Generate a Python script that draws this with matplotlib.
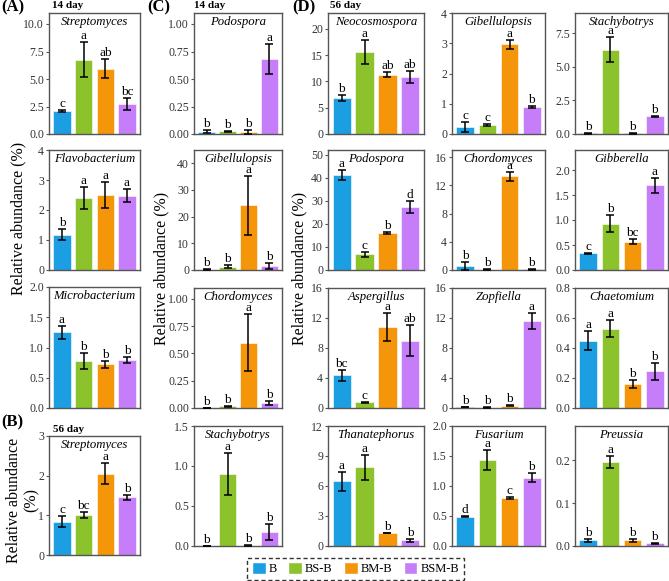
import numpy as np
import matplotlib.pyplot as plt
from matplotlib.patches import Patch

plt.rcParams['font.family'] = ['Liberation Serif', 'DejaVu Serif']

groups = ["B", "BS-B", "BM-B", "BSM-B"]
colors = ["#1C9FE2", "#8CC22B", "#F5960A", "#C57DF9"]

# (A) 14 day bacteria
strep14_mean = [2.1, 6.75, 5.95, 2.75]
strep14_err = [0.1, 1.6, 0.9, 0.55]
strep14_sig = ["c", "a", "ab", "bc"]

flavo_mean = [1.18, 2.4, 2.5, 2.48]
flavo_err = [0.18, 0.36, 0.44, 0.22]
flavo_sig = ["b", "a", "a", "a"]

micro_mean = [1.25, 0.78, 0.72, 0.79]
micro_err = [0.11, 0.13, 0.065, 0.045]
micro_sig = ["a", "b", "b", "b"]

# (B) 56 day bacteria
strep56_mean = [0.84, 1.01, 2.05, 1.45]
strep56_err = [0.14, 0.075, 0.27, 0.075]
strep56_sig = ["c", "bc", "a", "b"]

# (C) 14 day fungi
podo14_mean = [0.02, 0.025, 0.02, 0.68]
podo14_err = [0.015, 0.005, 0.02, 0.135]
podo14_sig = ["b", "b", "b", "a"]

gibel14_mean = [0.1, 1.3, 24.2, 1.5]
gibel14_err = [0.1, 0.7, 11.2, 1.2]
gibel14_sig = ["b", "b", "a", "b"]

chord14_mean = [0.002, 0.015, 0.6, 0.045]
chord14_err = [0.001, 0.005, 0.26, 0.02]
chord14_sig = ["b", "b", "a", "b"]

stachy14_mean = [0.004, 0.9, 0.006, 0.18]
stachy14_err = [0.002, 0.265, 0.003, 0.1]
stachy14_sig = ["b", "a", "b", "b"]

# (D) 56 day fungi
neocos_mean = [6.85, 15.6, 11.3, 10.85]
neocos_err = [0.6, 2.25, 0.45, 1.1]
neocos_sig = ["b", "a", "ab", "ab"]

gibel56_mean = [0.23, 0.29, 2.97, 0.9]
gibel56_err = [0.17, 0.04, 0.15, 0.03]
gibel56_sig = ["c", "c", "a", "b"]

stachy56_mean = [0.05, 6.25, 0.05, 1.33]
stachy56_err = [0.02, 0.93, 0.02, 0.04]
stachy56_sig = ["b", "a", "b", "b"]

podo56_mean = [41.0, 6.8, 16.1, 27.4]
podo56_err = [2.2, 1.0, 0.3, 2.5]
podo56_sig = ["a", "c", "b", "d"]

chord56_mean = [0.6, 0.05, 13.25, 0.1]
chord56_err = [0.6, 0.03, 0.6, 0.05]
chord56_sig = ["b", "b", "a", "b"]

gibber_mean = [0.34, 0.93, 0.57, 1.7]
gibber_err = [0.01, 0.165, 0.05, 0.15]
gibber_sig = ["c", "b", "bc", "a"]

asper_mean = [4.35, 0.75, 10.8, 9.0]
asper_err = [0.75, 0.07, 1.9, 2.05]
asper_sig = ["bc", "c", "a", "ab"]

zopf_mean = [0.12, 0.05, 0.3, 11.6]
zopf_err = [0.03, 0.02, 0.05, 1.05]
zopf_sig = ["b", "b", "b", "a"]

chaet_mean = [0.45, 0.53, 0.16, 0.245]
chaet_err = [0.063, 0.055, 0.025, 0.055]
chaet_sig = ["a", "a", "b", "b"]

thana_mean = [6.47, 7.9, 1.3, 0.57]
thana_err = [0.95, 1.25, 0.03, 0.12]
thana_sig = ["a", "a", "b", "b"]

fusar_mean = [0.49, 1.43, 0.8, 1.14]
fusar_err = [0.01, 0.17, 0.02, 0.07]
fusar_sig = ["d", "a", "c", "b"]

preus_mean = [0.013, 0.195, 0.013, 0.006]
preus_err = [0.004, 0.014, 0.003, 0.002]
preus_sig = ["b", "a", "b", "b"]

W, H = 669, 581
fig = plt.figure(figsize=(W / 100, H / 100), dpi=100)


def add_ax(x0, x1, y0, y1):
    return fig.add_axes([x0 / W, 1 - y1 / H, (x1 - x0) / W, (y1 - y0) / H])


def panel(ax, title, mean, err, sig, top, ticks, fmt):
    x = np.arange(1, 5)
    ax.bar(x, mean, width=0.8, color=colors, edgecolor="white", linewidth=0.4, zorder=2)
    ax.errorbar(x, mean, yerr=err, fmt="none", ecolor="black", elinewidth=1.1,
                capsize=3.2, capthick=1.1, zorder=3)
    for xi, m, e, s in zip(x, mean, err, sig):
        ax.annotate(s, (xi, m + e), xytext=(0, 0), textcoords="offset points",
                    ha="center", va="bottom", fontsize=9.5)
    ax.set_xlim(0.4, 4.6)
    ax.set_ylim(0, top)
    ax.set_yticks(ticks)
    ax.set_yticklabels([fmt.format(t) for t in ticks], fontsize=8.5, color="#333333")
    ax.set_xticks([])
    ax.tick_params(axis="y", length=2.5, width=0.8, color="#555555", pad=1)
    for sp in ax.spines.values():
        sp.set_color("#555555")
        sp.set_linewidth(1.0)
    ax.text(0.5, 0.975, title, transform=ax.transAxes, ha="center", va="top",
            fontsize=9.2, style="italic")


# column A / B
ax = add_ax(49, 140, 13, 134)
panel(ax, "Streptomyces", strep14_mean, strep14_err, strep14_sig, 11, [0, 2.5, 5, 7.5, 10], "{:.1f}")
ax = add_ax(49, 140, 150, 270)
panel(ax, "Flavobacterium", flavo_mean, flavo_err, flavo_sig, 4, [0, 1, 2, 3, 4], "{:.0f}")
ax = add_ax(49, 140, 287, 408)
panel(ax, "Microbacterium", micro_mean, micro_err, micro_sig, 2, [0, 0.5, 1, 1.5, 2], "{:.1f}")
ax = add_ax(49, 140, 436, 555)
panel(ax, "Streptomyces", strep56_mean, strep56_err, strep56_sig, 3, [0, 1, 2, 3], "{:.0f}")

# column C
ax = add_ax(194, 282, 13, 134)
panel(ax, "Podospora", podo14_mean, podo14_err, podo14_sig, 1.1, [0, 0.25, 0.5, 0.75, 1], "{:.2f}")
ax = add_ax(194, 282, 150, 270)
panel(ax, "Gibellulopsis", gibel14_mean, gibel14_err, gibel14_sig, 45, [0, 10, 20, 30, 40], "{:.0f}")
ax = add_ax(194, 282, 288, 408)
panel(ax, "Chordomyces", chord14_mean, chord14_err, chord14_sig, 1.1, [0, 0.25, 0.5, 0.75, 1], "{:.2f}")
ax = add_ax(194, 282, 426, 546)
panel(ax, "Stachybotrys", stachy14_mean, stachy14_err, stachy14_sig, 1.5, [0, 0.5, 1, 1.5], "{:.1f}")

# column D
cols = [(328, 424), (452, 545), (575, 668)]
rows = [(13, 134), (150, 270), (288, 408), (426, 546)]
d_panels = [
    ("Neocosmospora", neocos_mean, neocos_err, neocos_sig, 23, [0, 5, 10, 15, 20], "{:.0f}"),
    ("Gibellulopsis", gibel56_mean, gibel56_err, gibel56_sig, 4, [0, 1, 2, 3, 4], "{:.0f}"),
    ("Stachybotrys", stachy56_mean, stachy56_err, stachy56_sig, 9, [0, 2.5, 5, 7.5], "{:.1f}"),
    ("Podospora", podo56_mean, podo56_err, podo56_sig, 52, [0, 10, 20, 30, 40, 50], "{:.0f}"),
    ("Chordomyces", chord56_mean, chord56_err, chord56_sig, 17, [0, 4, 8, 12, 16], "{:.0f}"),
    ("Gibberella", gibber_mean, gibber_err, gibber_sig, 2.4, [0, 0.5, 1, 1.5, 2], "{:.1f}"),
    ("Aspergillus", asper_mean, asper_err, asper_sig, 16, [0, 4, 8, 12, 16], "{:.0f}"),
    ("Zopfiella", zopf_mean, zopf_err, zopf_sig, 16, [0, 4, 8, 12, 16], "{:.0f}"),
    ("Chaetomium", chaet_mean, chaet_err, chaet_sig, 0.8, [0, 0.2, 0.4, 0.6, 0.8], "{:.1f}"),
    ("Thanatephorus", thana_mean, thana_err, thana_sig, 12, [0, 3, 6, 9, 12], "{:.0f}"),
    ("Fusarium", fusar_mean, fusar_err, fusar_sig, 2, [0, 0.5, 1, 1.5, 2], "{:.1f}"),
    ("Preussia", preus_mean, preus_err, preus_sig, 0.28, [0, 0.1, 0.2], "{:.1f}"),
]
for i, p in enumerate(d_panels):
    r, c = divmod(i, 3)
    ax = add_ax(cols[c][0], cols[c][1], rows[r][0], rows[r][1])
    panel(ax, *p)

# labels
fig.text(1 / W, 1 - 7 / H, "(A)", fontsize=12, fontweight="bold", va="center")
fig.text(147 / W, 1 - 7 / H, "(C)", fontsize=12, fontweight="bold", va="center")
fig.text(292 / W, 1 - 7 / H, "(D)", fontsize=12, fontweight="bold", va="center")
fig.text(1 / W, 1 - 422 / H, "(B)", fontsize=12, fontweight="bold", va="center")
fig.text(52 / W, 1 - 6 / H, "14 day", fontsize=8, fontweight="bold", va="center")
fig.text(194 / W, 1 - 6 / H, "14 day", fontsize=8, fontweight="bold", va="center")
fig.text(330 / W, 1 - 6 / H, "56 day", fontsize=8, fontweight="bold", va="center")
fig.text(53 / W, 1 - 429 / H, "56 day", fontsize=8, fontweight="bold", va="center")

fig.text(18 / W, 1 - 218 / H, "Relative abundance (%)", fontsize=11.5, rotation=90,
         ha="center", va="center")
fig.text(23 / W, 1 - 500 / H, "Relative abundance\n(%)", fontsize=11.5, rotation=90,
         ha="center", va="center", linespacing=1.1)
fig.text(161 / W, 1 - 268 / H, "Relative abundance (%)", fontsize=11.5, rotation=90,
         ha="center", va="center")
fig.text(299 / W, 1 - 268 / H, "Relative abundance (%)", fontsize=11.5, rotation=90,
         ha="center", va="center")

handles = [Patch(facecolor=c, edgecolor="white", label=g) for c, g in zip(colors, groups)]
leg = fig.legend(handles=handles, loc="center", bbox_to_anchor=(355.5 / W, 1 - 568.5 / H),
                 ncol=4, fontsize=9, frameon=True, fancybox=False, handlelength=1.1,
                 handleheight=1.1, handletextpad=0.25, columnspacing=0.9,
                 borderpad=0.35, borderaxespad=0)
leg.get_frame().set_edgecolor("black")
leg.get_frame().set_linestyle((0, (3, 2)))
leg.get_frame().set_linewidth(1.0)

fig.savefig("out.png", dpi=100)
